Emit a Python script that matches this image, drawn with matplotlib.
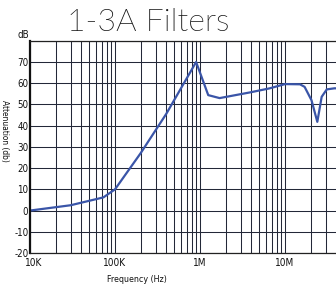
import matplotlib
matplotlib.use("Agg")
import matplotlib.pyplot as plt
import matplotlib.transforms as mtransforms
import numpy as np
from matplotlib.ticker import LogLocator, NullFormatter, FixedLocator
from matplotlib import font_manager
from matplotlib.font_manager import FontProperties

freq_hz = [1e4, 3e4, 7.3e4, 1e5, 2e5, 4e5, 9e5, 1.25e6, 1.7e6, 3.9e6, 6.6e6, 1e7, 1.5e7, 1.7e7, 2.05e7, 2.4e7, 2.7e7, 3.1e7, 3.8e7, 4.0e7]
atten_db = [0, 2.5, 6.2, 10, 27, 45.5, 70, 54.4, 53, 55.7, 57.6, 59.6, 59.5, 58.3, 52, 41.8, 53.6, 57.1, 57.6, 57.6]
x_ticks = [1e4, 1e5, 1e6, 1e7]
x_labels = ["10K", "100K", "1M", "10M"]
y_ticks = [-20, -10, 0, 10, 20, 30, 40, 50, 60, 70]


def wnum(w):
    if isinstance(w, (int, float)):
        return w
    return font_manager.weight_dict.get(str(w).lower(), 400)


def pick_font(pref, min_weight=0, max_weight=1000, stretch=None):
    for fam in pref:
        for f in font_manager.fontManager.ttflist:
            if f.name != fam or f.style != "normal":
                continue
            w = wnum(f.weight)
            if w < min_weight or w > max_weight:
                continue
            if stretch is not None and str(f.stretch) not in stretch:
                continue
            return FontProperties(fname=f.fname)
    return None


title_fp = pick_font(["Lato", "Open Sans", "Roboto", "Inter", "Noto Sans", "DejaVu Sans"], max_weight=300)
if title_fp is None:
    title_fp = FontProperties(family="DejaVu Sans")
narrow_fp = pick_font(["DejaVu Sans", "Noto Sans", "Open Sans", "Roboto"], min_weight=350, max_weight=500,
                      stretch=("condensed", "semi-condensed", "extra-condensed", "75", "87.5"))
if narrow_fp is None:
    narrow_fp = pick_font(["Liberation Sans Narrow"]) or FontProperties(family="DejaVu Sans")

W, H = 336, 284
fig = plt.figure(figsize=(W / 100, H / 100), dpi=100)
left, right, top, bottom = 30, 336, 40.8, 253
ax = fig.add_axes([left / W, 1 - bottom / H, (right - left) / W, (bottom - top) / H])

ax.set_xscale("log")
ax.set_xlim(1e4, 10 ** 7.6)
ax.set_ylim(-20, 80)

grid_c = "#232838"
ax.xaxis.set_major_locator(FixedLocator(x_ticks))
ax.xaxis.set_minor_locator(LogLocator(base=10, subs=np.arange(2, 10)))
ax.xaxis.set_major_formatter(NullFormatter())
ax.xaxis.set_minor_formatter(NullFormatter())
ax.set_yticks(y_ticks + [80])
ax.set_yticklabels([str(v) for v in y_ticks] + [""])
ax.grid(True, which="both", axis="x", color=grid_c, lw=0.75)
ax.grid(True, which="major", axis="y", color=grid_c, lw=0.75)
ax.tick_params(which="both", length=0, pad=1.2, colors="#111111")
for lab in ax.get_yticklabels():
    lab.set_fontproperties(narrow_fp)
    lab.set_fontsize(7)

ax.spines["right"].set_visible(False)
ax.spines["left"].set_linewidth(1.6)
ax.spines["left"].set_color("#111111")
ax.spines["bottom"].set_linewidth(0.9)
ax.spines["bottom"].set_color("#222222")
ax.spines["top"].set_linewidth(0.9)
ax.spines["top"].set_color("#222222")

ax.plot(freq_hz, atten_db, color="#3a55a8", lw=1.6, solid_joinstyle="round")

for xv, lab in zip(x_ticks, x_labels):
    tr = ax.get_xaxis_transform()
    if lab == "10K":
        tr = tr + mtransforms.ScaledTranslation(4 / 100, 0, fig.dpi_scale_trans)
    t = ax.text(xv, -0.025, lab, transform=tr, ha="center", va="top",
                fontproperties=narrow_fp, color="#111111")
    t.set_fontsize(7.2)

def ftext(x, y, s, size, fp, **kw):
    t = fig.text(x / W, 1 - y / H, s, fontproperties=fp, color="#111111", **kw)
    t.set_fontsize(size)
    return t

ftext(29, 40, "dB", 7, narrow_fp, ha="right", va="bottom")
ftext(137, 279, "Frequency (Hz)", 6.4, narrow_fp, ha="center", va="center")
ftext(4.5, 131, "Attenuation (db)", 6, narrow_fp, ha="center", va="center", rotation=-90)
ftext(148, 22.5, "1-3A Filters", 23, title_fp, ha="center", va="center")

fig.savefig("out.png", dpi=100)
